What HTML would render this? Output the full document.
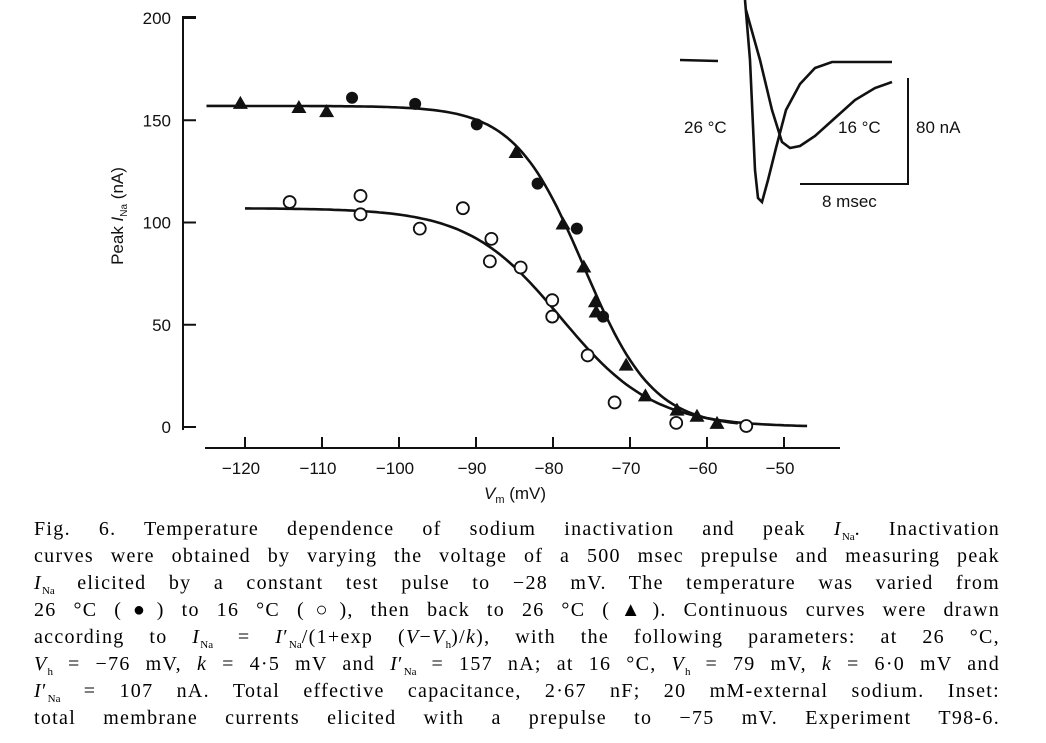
<!DOCTYPE html>
<html><head><meta charset="utf-8"><style>
body{margin:0;background:#fff;width:1046px;height:743px;overflow:hidden;position:relative}
svg{position:absolute;left:0;top:0}
.cap{position:absolute;left:34px;width:966px;font-family:"Liberation Serif",serif;font-size:20px;letter-spacing:1.3px;line-height:26px;text-align:justify;text-align-last:justify;white-space:nowrap;color:#000}
.cap sub{font-size:11px;letter-spacing:0}
</style></head><body>
<svg id="chart" width="1046" height="743" font-family="Liberation Sans, sans-serif" fill="#111"></svg>
<div>
<div class="cap" style="top:516px">Fig. 6. Temperature dependence of sodium inactivation and peak <i>I</i><sub>Na</sub>. Inactivation</div>
<div class="cap" style="top:543px">curves were obtained by varying the voltage of a 500 msec prepulse and measuring peak</div>
<div class="cap" style="top:570px"><i>I</i><sub>Na</sub> elicited by a constant test pulse to −28 mV. The temperature was varied from</div>
<div class="cap" style="top:597px">26 °C (●) to 16 °C (○), then back to 26 °C (▲). Continuous curves were drawn</div>
<div class="cap" style="top:624px">according to <i>I</i><sub>Na</sub> = <i>I</i>′<sub>Na</sub>/(1+exp (<i>V</i>−<i>V</i><sub>h</sub>)/<i>k</i>), with the following parameters: at 26 °C,</div>
<div class="cap" style="top:651px"><i>V</i><sub>h</sub> = −76 mV, <i>k</i> = 4·5 mV and <i>I</i>′<sub>Na</sub> = 157 nA; at 16 °C, <i>V</i><sub>h</sub> = 79 mV, <i>k</i> = 6·0 mV and</div>
<div class="cap" style="top:678px"><i>I</i>′<sub>Na</sub> = 107 nA. Total effective capacitance, 2·67 nF; 20 mM-external sodium. Inset:</div>
<div class="cap" style="top:705px">total membrane currents elicited with a prepulse to −75 mV. Experiment T98-6.</div>
</div>
<script>
const xTicks=[-120,-110,-100,-90,-80,-70,-60,-50];
const yTicks=[0,50,100,150,200];
const filledV=[-106.1,-97.9,-89.9,-82,-76.9,-73.5];
const filledI=[161,158,148,119,97,54];
const triV=[-120.6,-113,-109.4,-84.8,-78.7,-76,-74.5,-74.4,-70.5,-68,-63.9,-61.3,-58.7];
const triI=[158,156,154,134,99,78,61,56,30,15,8,5,1.5];
const openV=[-114.2,-105,-105,-97.3,-91.7,-88,-88.2,-84.2,-80.1,-80.1,-75.5,-72,-64,-54.9];
const openI=[110,113,104,97,107,92,81,78,62,54,35,12,2,0.5];
const fit26=[157,-76,4.5];
const fit16=[107,-79,6.0];
const NS="http://www.w3.org/2000/svg";
const svg=document.getElementById('chart');
const sx=v=>553+(v+80)*7.7;
const sy=i=>427-i*2.045;
function mk(t,a,p){const e=document.createElementNS(NS,t);for(const k in a)e.setAttribute(k,a[k]);(p||svg).appendChild(e);return e;}
const axes=mk('g',{});


const ya=mk('path',{d:'M196 17 H183 V430',stroke:'#111','stroke-width':2,fill:'none'},axes);


yTicks.forEach(t=>{const y=sy(t);
mk('line',{x1:183,x2:196,y1:y,y2:y,stroke:'#111','stroke-width':2},axes);
const tx=mk('text',{x:171,y:y+6,'text-anchor':'end','font-size':17},axes);tx.textContent=t;

});
const xa=mk('line',{x1:205,x2:840,y1:448,y2:448,stroke:'#111','stroke-width':2},axes);


xTicks.forEach(t=>{const x=sx(t);
mk('line',{x1:x,x2:x,y1:437,y2:448,stroke:'#111','stroke-width':2},axes);
const tx=mk('text',{x:x-4,y:474,'text-anchor':'middle','font-size':17},axes);tx.textContent='−'+Math.abs(t);

});
const xl=mk('text',{x:515,y:499,'text-anchor':'middle','font-size':17},axes);
xl.innerHTML='<tspan font-style="italic">V</tspan><tspan font-size="11" dy="4">m</tspan><tspan dy="-4"> (mV)</tspan>';


const yl=mk('text',{x:0,y:0,'text-anchor':'middle','font-size':17,transform:'translate(123,216) rotate(-90)'},axes);
yl.innerHTML='Peak <tspan font-style="italic">I</tspan><tspan font-size="10" dy="4">Na</tspan><tspan dy="-4"> (nA)</tspan>';


function curve(p,v0,v1,name){let d='';for(let v=v0;v<=v1;v+=0.5){const i=p[0]/(1+Math.exp((v-p[1])/p[2]));d+=(d?'L':'M')+sx(v).toFixed(1)+' '+sy(i).toFixed(1);}
const c=mk('path',{d:d,stroke:'#111','stroke-width':2.6,fill:'none'});

}
curve(fit26,-125,-56,'fit-curve-26c');
curve(fit16,-120,-47,'fit-curve-16c');
filledV.forEach((v,k)=>{const c=mk('circle',{cx:sx(v),cy:sy(filledI[k]),r:6,fill:'#111'});

});
triV.forEach((v,k)=>{const x=sx(v),y=sy(triI[k]);const c=mk('path',{d:`M${x} ${y-8}L${x+7.5} ${y+5}L${x-7.5} ${y+5}Z`,fill:'#111'});

});
openV.forEach((v,k)=>{const c=mk('circle',{cx:sx(v),cy:sy(openI[k]),r:6,fill:'#fff',stroke:'#111','stroke-width':1.8});

});
const ins=mk('g',{fill:'none',stroke:'#111','stroke-width':2.6});


mk('path',{d:'M680 60 L718 61'},ins);
mk('path',{d:'M745 0 L750 60 L755 170 L758 198 L762 202 L768 180 L776 148 L786 110 L800 84 L815 68 L832 62 L892 62'},ins);
mk('path',{d:'M746 10 L760 60 L772 110 L782 142 L790 148 L800 146 L815 136 L835 118 L855 100 L875 88 L892 82'},ins);
mk('path',{d:'M908 78 V184 H800','stroke-width':2},ins);
const lab=[['26 °C',684,133],['16 °C',838,133],['80 nA',916,133],['8 msec',822,207]];
lab.forEach(l=>{const t=mk('text',{x:l[1],y:l[2],'font-size':17});t.textContent=l[0];

});
</script>
</body></html>
